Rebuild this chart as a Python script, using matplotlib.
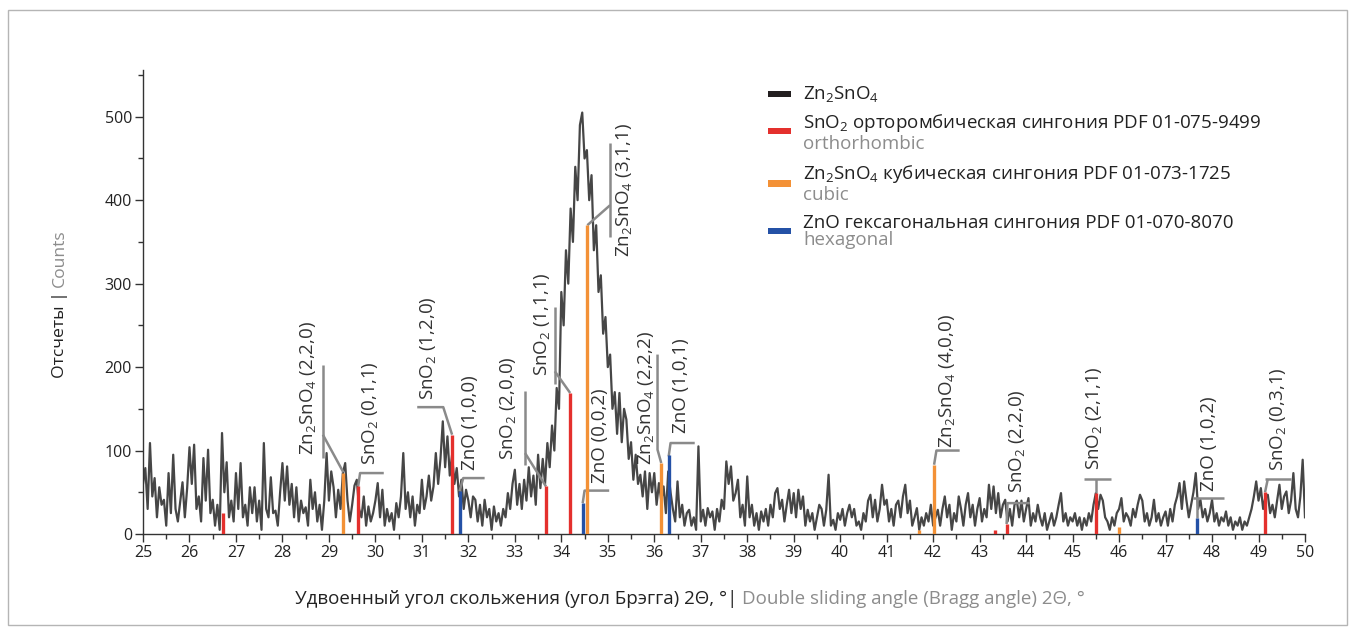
import numpy as np
import matplotlib
matplotlib.use('Agg')
import matplotlib.pyplot as plt
from matplotlib.patches import Rectangle
from matplotlib.ticker import MultipleLocator

plt.rcParams['font.family'] = ['Open Sans', 'DejaVu Sans']
plt.rcParams['mathtext.fontset'] = 'custom'
plt.rcParams['mathtext.rm'] = 'Open Sans'
plt.rcParams['mathtext.default'] = 'regular'

# ---------------- data ----------------
angle_start = 25.0
angle_step = 0.05

counts_25_29 = [
    60, 79, 30, 109, 45, 67, 20, 56, 35, 41, 10, 73, 25, 95, 30, 15, 38, 62, 20, 55,
    104, 60, 107, 30, 45, 15, 91, 40, 101, 25, 41, 10, 35, 5, 121, 50, 86, 20, 40, 15,
    73, 30, 85, 20, 35, 10, 56, 25, 56, 15, 40, 5, 109, 30, 20, 68, 25, 28, 10, 50,
    85, 40, 81, 35, 60, 20, 56, 15, 40, 25, 32, 10, 65, 30, 50, 15, 35, 5, 40, 97,
]
counts_29_33 = [
    40, 75, 56, 20, 53, 30, 73, 85, 40, 15, 35, 58, 65, 30, 20, 45, 10, 33, 15, 25,
    40, 61, 20, 53, 10, 30, 15, 25, 5, 37, 20, 45, 97, 30, 50, 20, 45, 10, 35, 25,
    65, 30, 45, 70, 40, 57, 97, 60, 90, 135, 80, 117, 70, 95, 60, 79, 45, 65, 30, 53,
    40, 20, 45, 41, 15, 35, 10, 41, 20, 30, 5, 33, 15, 25, 10, 30, 20, 49, 30, 60,
]
counts_33_37 = [
    77, 35, 60, 30, 65, 40, 80, 45, 70, 35, 95, 55, 90, 60, 109, 80, 130, 100, 175, 150,
    290, 250, 340, 300, 390, 350, 440, 400, 490, 505, 450, 460, 400, 430, 340, 370, 290, 310, 240, 260,
    200, 215, 150, 170, 120, 169, 110, 150, 137, 90, 110, 65, 95, 60, 71, 45, 75, 30, 73, 50,
    73, 35, 61, 40, 57, 25, 75, 50, 30, 15, 63, 20, 35, 10, 25, 29, 10, 20, 5, 105,
]
counts_37_41 = [
    15, 29, 10, 31, 20, 27, 5, 30, 15, 41, 30, 87, 60, 81, 40, 49, 65, 20, 35, 10,
    69, 20, 35, 10, 25, 5, 27, 15, 30, 10, 35, 20, 49, 55, 30, 41, 15, 35, 53, 25,
    49, 20, 53, 30, 45, 10, 29, 15, 25, 5, 20, 35, 30, 10, 29, 71, 10, 17, 5, 25,
    17, 30, 10, 25, 35, 20, 30, 10, 15, 5, 25, 15, 40, 47, 20, 41, 15, 30, 59, 35,
]
counts_41_45 = [
    41, 15, 30, 10, 35, 40, 20, 45, 59, 25, 40, 10, 20, 31, 5, 20, 10, 25, 15, 35,
    10, 20, 29, 10, 30, 45, 20, 35, 5, 25, 15, 45, 30, 10, 35, 49, 20, 35, 10, 30,
    43, 15, 30, 20, 59, 30, 57, 25, 49, 20, 35, 41, 15, 30, 10, 35, 40, 20, 40, 15,
    30, 43, 10, 25, 15, 35, 20, 10, 25, 5, 15, 25, 10, 20, 35, 49, 15, 25, 10, 20,
]
counts_45_50 = [
    15, 25, 10, 20, 5, 19, 10, 25, 15, 35, 49, 30, 47, 40, 20, 15, 5, 20, 10, 25,
    30, 43, 15, 25, 20, 10, 30, 20, 35, 47, 40, 15, 25, 10, 20, 41, 15, 25, 10, 20,
    27, 10, 30, 15, 35, 45, 61, 30, 63, 40, 20, 35, 50, 73, 30, 41, 20, 30, 15, 25,
    41, 15, 25, 10, 20, 15, 27, 10, 20, 5, 15, 10, 20, 5, 15, 10, 20, 30, 45, 63,
    40, 55, 30, 45, 47, 25, 35, 20, 40, 59, 30, 45, 51, 25, 40, 73, 30, 20, 45, 89,
    20,
]

# reference patterns (position 2Theta, relative height in counts)
sno2_pos = [26.72, 29.63, 31.65, 33.67, 34.19, 43.32, 43.58, 45.50, 49.14]
sno2_h = [25, 57, 119, 57, 169, 5, 12, 49, 50]
zn2sno4_pos = [29.31, 34.56, 36.15, 41.70, 42.02, 46.00]
zn2sno4_h = [73, 370, 85, 5, 83, 8]
zno_pos = [31.81, 34.46, 36.31, 47.67]
zno_h = [51, 37, 95, 19]

x_ticks = list(range(25, 51))
y_ticks = [0, 100, 200, 300, 400, 500]

# peak labels: text, anchor x, anchor y (bottom of rotated text)
label_texts = [
    r"Zn$_2$SnO$_4$ (2,2,0)", r"SnO$_2$ (0,1,1)", r"SnO$_2$ (1,2,0)", "ZnO (1,0,0)",
    r"SnO$_2$ (2,0,0)", r"SnO$_2$ (1,1,1)", r"Zn$_2$SnO$_4$ (3,1,1)", "ZnO (0,0,2)",
    r"Zn$_2$SnO$_4$ (2,2,2)", "ZnO (1,0,1)", r"Zn$_2$SnO$_4$ (4,0,0)", r"SnO$_2$ (2,2,0)",
    r"SnO$_2$ (2,1,1)", "ZnO (1,0,2)", r"SnO$_2$ (0,3,1)",
]
label_x = [28.55, 29.88, 31.14, 32.04, 32.85, 33.58, 35.35, 34.83,
           35.82, 36.57, 42.30, 43.80, 45.46, 47.93, 49.41]
label_y = [95, 83, 161, 77, 89, 189, 332, 61, 83, 121, 103, 49, 77, 51, 75]
# leader lines (layout)
leaders = [
    [[(28.87, 203), (28.87, 91)], [(28.87, 119), (29.31, 74)]],
    [[(29.63, 57), (29.67, 73), (30.18, 73)]],
    [[(30.90, 152), (31.46, 152), (31.65, 119)]],
    [[(31.81, 51), (31.89, 67), (32.35, 67)]],
    [[(33.22, 171), (33.22, 83)], [(33.22, 97), (33.67, 57)]],
    [[(33.86, 272), (33.86, 180)], [(33.86, 195), (34.19, 169)]],
    [[(35.05, 468), (35.05, 356)], [(35.05, 394), (34.56, 370)]],
    [[(34.46, 37), (34.50, 52), (35.03, 52)]],
    [[(36.07, 215), (36.07, 101), (36.15, 85)]],
    [[(36.31, 93), (36.35, 109), (36.87, 109)]],
    [[(42.02, 83), (42.07, 100), (42.57, 100)]],
    [[(43.58, 12), (43.60, 37), (44.08, 37)]],
    [[(45.25, 66), (45.83, 66)], [(45.50, 66), (45.50, 49)]],
    [[(47.67, 19), (47.67, 43)], [(47.60, 43), (48.25, 43)]],
    [[(49.14, 50), (49.20, 66)], [(49.13, 66), (49.70, 66)]],
]

counts = counts_25_29 + counts_29_33 + counts_33_37 + counts_37_41 + counts_41_45 + counts_45_50
two_theta = angle_start + angle_step * np.arange(len(counts))

# ---------------- figure ----------------
W, H = 1355, 632
fig = plt.figure(figsize=(W / 100, H / 100), dpi=100)
fx = lambda px: px / W
fy = lambda py: 1 - py / H

ax = fig.add_axes([fx(143), fy(534), fx(1305) - fx(143), fy(70) - fy(534)])

RED = '#e4302d'
ORANGE = '#f39136'
BLUE = '#2451a6'
BLACK = '#231f20'
GRAY_TXT = '#8c8c8c'
LEAD = '#8a8a8a'

ax.plot(two_theta, counts, color='#262626', lw=1.6, alpha=0.85, zorder=2)
ax.vlines(sno2_pos, 0, sno2_h, color=RED, lw=2.4, zorder=4)
ax.vlines(zn2sno4_pos, 0, zn2sno4_h, color=ORANGE, lw=2.4, zorder=4)
ax.vlines(zno_pos, 0, zno_h, color=BLUE, lw=2.4, zorder=4)

for segs in leaders:
    for seg in segs:
        xs = [p[0] for p in seg]
        ys = [p[1] for p in seg]
        ax.plot(xs, ys, color=LEAD, lw=1.8, zorder=3, solid_capstyle='butt')

for t, x, y in zip(label_texts, label_x, label_y):
    ax.text(x, y, t, rotation=90, ha='center', va='bottom', fontsize=13.5,
            color='#333333', zorder=5)

ax.set_xlim(25, 50)
ax.set_ylim(0, 556)
ax.set_xticks(x_ticks)
ax.set_yticks(y_ticks)
ax.xaxis.set_minor_locator(MultipleLocator(0.5))
ax.yaxis.set_minor_locator(MultipleLocator(50))
ax.tick_params(which='major', direction='out', length=6, width=1, labelsize=11.5,
               color='#333333', labelcolor='#222222', pad=2)
ax.tick_params(which='minor', direction='out', length=3.5, width=1, color='#333333')
for s in ['top', 'right']:
    ax.spines[s].set_visible(False)
for s in ['left', 'bottom']:
    ax.spines[s].set_color('#333333')
    ax.spines[s].set_linewidth(1)

# outer frame
fig.patches.append(Rectangle((fx(8), fy(625)), fx(1347) - fx(8), fy(10) - fy(625),
                             transform=fig.transFigure, fill=False, ec='#b5b5b5', lw=1))

# legend (manual)
leg_items = [
    (BLACK, 91, 97, [(r"Zn$_2$SnO$_4$", 98.5, '#222222')]),
    (RED, 128, 134, [(r"SnO$_2$ орторомбическая сингония PDF 01-075-9499", 127.5, '#222222'),
                     ("orthorhombic", 149, GRAY_TXT)]),
    (ORANGE, 180, 187, [(r"Zn$_2$SnO$_4$ кубическая сингония PDF 01-073-1725", 178.5, '#222222'),
                        ("cubic", 200, GRAY_TXT)]),
    (BLUE, 228, 234, [("ZnO гексагональная сингония PDF 01-070-8070", 228, '#222222'),
                      ("hexagonal", 245, GRAY_TXT)]),
]
for col, y0, y1, lines in leg_items:
    fig.patches.append(Rectangle((fx(768), fy(y1)), fx(791) - fx(768), fy(y0) - fy(y1),
                                 transform=fig.transFigure, color=col, lw=0))
    for txt, base, c in lines:
        fig.text(fx(803), fy(base), txt, ha='left', va='baseline', fontsize=13.5, color=c)

# axis labels (two-colour)
fig.text(fx(737), fy(599), "Удвоенный угол скольжения (угол Брэгга) 2Θ, °|", ha='right',
         va='center', fontsize=13.5, color='#222222')
fig.text(fx(742), fy(599), "Double sliding angle (Bragg angle) 2Θ, °", ha='left',
         va='center', fontsize=13.5, color=GRAY_TXT)

yl1 = fig.text(fx(60), fy(378), "Отсчеты |", rotation=90, ha='center', va='bottom',
               fontsize=12.6, color='#222222')
fig.canvas.draw()
bb = yl1.get_window_extent()
fig.text(fx(60), (bb.y1 + 4) / H, "Counts", rotation=90, ha='center', va='bottom',
         fontsize=12.6, color=GRAY_TXT)

fig.savefig('out.png', dpi=100, facecolor='white')
